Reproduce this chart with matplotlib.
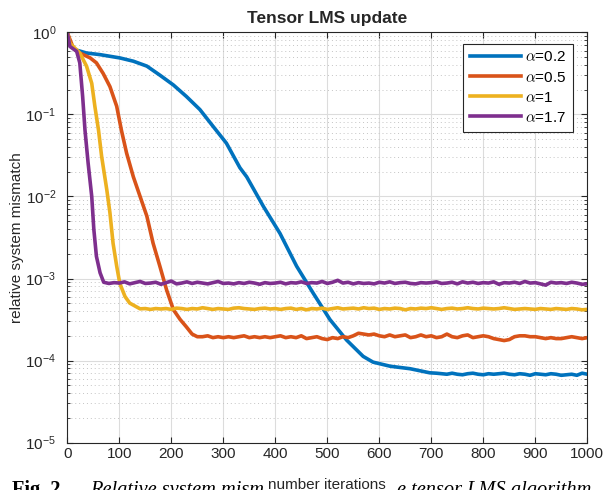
import matplotlib
matplotlib.use("Agg")
import matplotlib.pyplot as plt
import numpy as np

plt.rcParams['font.family'] = ['Liberation Sans', 'DejaVu Sans']
plt.rcParams['mathtext.fontset'] = 'cm'

# transient parts: (iteration, log10 of mismatch)
blue_x = [0, 5, 15, 37, 63, 101, 127, 153, 178, 204, 229, 255, 281, 306, 332, 345,
          377, 409, 441, 473, 505, 537, 569, 588, 621, 659, 697]
blue_log = [0, -0.13, -0.21, -0.25, -0.27, -0.31, -0.35, -0.41, -0.52, -0.64, -0.78, -0.94,
            -1.15, -1.35, -1.65, -1.76, -2.12, -2.45, -2.85, -3.18, -3.50, -3.75, -3.95,
            -4.02, -4.07, -4.10, -4.15]
orange_x = [0, 11.5, 24, 44, 56, 69, 82, 95, 104, 114, 127, 140, 153, 165, 178, 191,
            204, 217, 229]
orange_log = [0, -0.19, -0.25, -0.31, -0.37, -0.5, -0.66, -0.9, -1.19, -1.47, -1.76, -2.0,
              -2.24, -2.57, -2.85, -3.14, -3.38, -3.5, -3.59]
yellow_x = [0, 5, 24, 37, 47, 53, 60, 66, 76, 82, 88, 95, 101, 111, 120, 140]
yellow_log = [0, -0.13, -0.25, -0.41, -0.62, -0.9, -1.19, -1.51, -1.92, -2.2, -2.57, -2.85,
              -3.06, -3.22, -3.3, -3.37]
purple_x = [0, 5, 18, 24, 29.5, 34, 40, 47, 51, 56, 63]
purple_log = [0, -0.17, -0.23, -0.37, -0.78, -1.19, -1.59, -2.0, -2.4, -2.73, -2.93]

# steady-state parts, every 10 iterations
blue_ss = [7.0, 6.9, 6.8, 7.0, 6.8, 6.7, 6.9, 7.0, 6.8, 6.7, 6.9, 6.8, 6.9, 7.0, 6.8,
           6.7, 6.9, 6.8, 6.6, 6.9, 6.8, 6.7, 6.9, 6.8, 6.6, 6.7, 6.8, 6.6, 7.0, 6.8]  # x1e-5, 710..1000
orange_ss = [2.1, 1.95, 1.95, 2.0, 1.9, 1.95, 1.9, 1.95, 1.9, 1.95, 2.0, 1.9, 1.95, 1.9,
             1.95, 1.9, 1.95, 2.0, 1.9, 1.95, 1.9, 2.0, 1.85, 1.9, 1.95, 1.85, 1.8, 1.9,
             1.85, 1.95, 1.9, 2.0, 2.15, 2.1, 2.05, 2.1, 2.0, 1.95, 2.05, 1.95, 2.0, 2.05,
             1.9, 1.95, 2.05, 1.95, 2.0, 1.9, 1.95, 2.1, 1.95, 1.9, 2.0, 2.05, 1.9, 1.95,
             2.0, 1.95, 1.85, 1.8, 1.75, 1.8, 1.95, 2.0, 2.0, 1.95, 1.95, 1.9, 1.85, 1.9,
             1.85, 1.85, 1.9, 1.95, 1.9, 1.85, 1.9]  # x1e-4, 240..1000
yellow_ss = [4.3, 4.2, 4.3, 4.25, 4.3, 4.2, 4.35, 4.3, 4.2, 4.3, 4.25, 4.4, 4.3, 4.2,
             4.3, 4.25, 4.2, 4.35, 4.4, 4.3, 4.25, 4.2, 4.3, 4.35, 4.25, 4.3, 4.2, 4.3,
             4.35, 4.2, 4.3, 4.15, 4.3, 4.25, 4.35, 4.2, 4.3, 4.4, 4.25, 4.3, 4.35, 4.25,
             4.4, 4.3, 4.35, 4.2, 4.3, 4.25, 4.35, 4.3, 4.15, 4.3, 4.25, 4.35, 4.3, 4.4,
             4.3, 4.2, 4.3, 4.35, 4.25, 4.3, 4.4, 4.3, 4.25, 4.35, 4.3, 4.25, 4.3, 4.4,
             4.3, 4.2, 4.25, 4.3, 4.25, 4.2, 4.3, 4.25, 4.2, 4.3, 4.25, 4.2, 4.3, 4.25,
             4.15, 4.2]  # x1e-4, 150..1000
purple_ss = [9.0, 8.7, 8.9, 8.8, 9.1, 8.6, 8.9, 9.2, 8.7, 8.8, 9.0, 8.5, 8.9, 9.3, 8.6,
             8.8, 9.1, 8.7, 9.0, 8.8, 8.6, 8.9, 9.2, 8.7, 8.8, 8.6, 8.9, 8.7, 9.0, 8.8,
             8.5, 8.9, 8.7, 8.8, 9.0, 8.6, 8.9, 8.8, 9.1, 8.7, 8.9, 8.8, 9.2, 8.7, 9.0,
             9.5, 8.8, 9.0, 8.6, 8.9, 8.7, 8.8, 8.6, 9.0, 8.8, 9.1, 8.7, 8.9, 9.0, 8.7,
             8.6, 8.9, 8.8, 8.9, 9.1, 8.7, 8.8, 9.0, 8.6, 9.1, 8.8, 9.0, 8.7, 8.9, 8.8,
             9.1, 8.5, 8.9, 8.8, 9.0, 8.7, 9.2, 8.8, 8.9, 8.6, 8.3, 9.0, 8.8, 8.9, 8.7,
             9.0, 8.8, 8.5, 8.6]  # x1e-4, 70..1000

labels = [r'$\alpha$=0.2', r'$\alpha$=0.5', r'$\alpha$=1', r'$\alpha$=1.7']
colors = ['#0072BD', '#D95319', '#EDB120', '#7E2F8E']

series = [
    (blue_x, blue_log, 710, blue_ss, 1e-5),
    (orange_x, orange_log, 240, orange_ss, 1e-4),
    (yellow_x, yellow_log, 150, yellow_ss, 1e-4),
    (purple_x, purple_log, 70, purple_ss, 1e-4),
]

fig = plt.figure(figsize=(6.08, 4.9), dpi=100)
ax = fig.add_axes([67.3 / 608, 1 - 442.5 / 490, 520 / 608, 410 / 490])

for (tx, tlog, start, ss, scale), c, lab in zip(series, colors, labels):
    xs = list(tx) + list(range(start, start + 10 * len(ss), 10))
    ys = [10 ** v for v in tlog] + [v * scale for v in ss]
    ax.plot(xs, ys, color=c, lw=2.6, label=lab)

ax.set_yscale('log')
ax.set_xlim(0, 1000)
ax.set_ylim(1e-5, 1)
ax.set_xticks(range(0, 1001, 100))
ax.set_yticks([1e-5, 1e-4, 1e-3, 1e-2, 1e-1, 1])
ax.grid(True, which='major', color='#dcdcdc', lw=0.8)
ax.grid(True, which='minor', axis='y', color='#c4c4c4', lw=0.7, ls=(0, (1, 3)))
ax.tick_params(which='both', direction='in', top=True, right=True, colors='#262626',
               labelsize=11)
ax.tick_params(which='major', length=4)
ax.tick_params(which='minor', length=2.5)
ax.tick_params(axis='y', which='major', pad=8)
for s in ax.spines.values():
    s.set_color('#262626')
    s.set_linewidth(0.8)

ax.set_title('Tensor LMS update', fontsize=12.5, fontweight='bold', color='#262626', pad=7)
ax.set_ylabel('relative system mismatch', fontsize=11, color='#262626')
ax.yaxis.set_label_coords(-0.083, 0.5)
ax.set_xlabel('number iterations', fontsize=11, color='#262626',
              bbox=dict(facecolor='white', edgecolor='none', pad=4))
ax.xaxis.set_label_coords(0.5, -0.104)
ax.xaxis.label.set_va('center')

leg = ax.legend(loc='upper right', bbox_to_anchor=(0.973, 0.973), borderaxespad=0,
                fontsize=11, handlelength=3.3, handletextpad=0.3, labelspacing=0.4,
                fancybox=False, framealpha=1, edgecolor='#262626', borderpad=0.45)
leg.get_frame().set_linewidth(0.8)

# caption of the paper, cut by the bottom of the picture
fig.text(12 / 608, -0.011, 'Fig. 2.', family='Liberation Serif', weight='bold',
         fontsize=14.7, va='baseline', zorder=-1)
fig.text(90 / 608, -0.011, 'Relative system mismatch of th', family='Liberation Serif',
         style='italic', fontsize=14.7, va='baseline', zorder=-1)
fig.text(397 / 608, -0.011, 'e tensor LMS algorithm', family='Liberation Serif',
         style='italic', fontsize=14.7, va='baseline', zorder=-1)

fig.savefig('out.png', dpi=100)
